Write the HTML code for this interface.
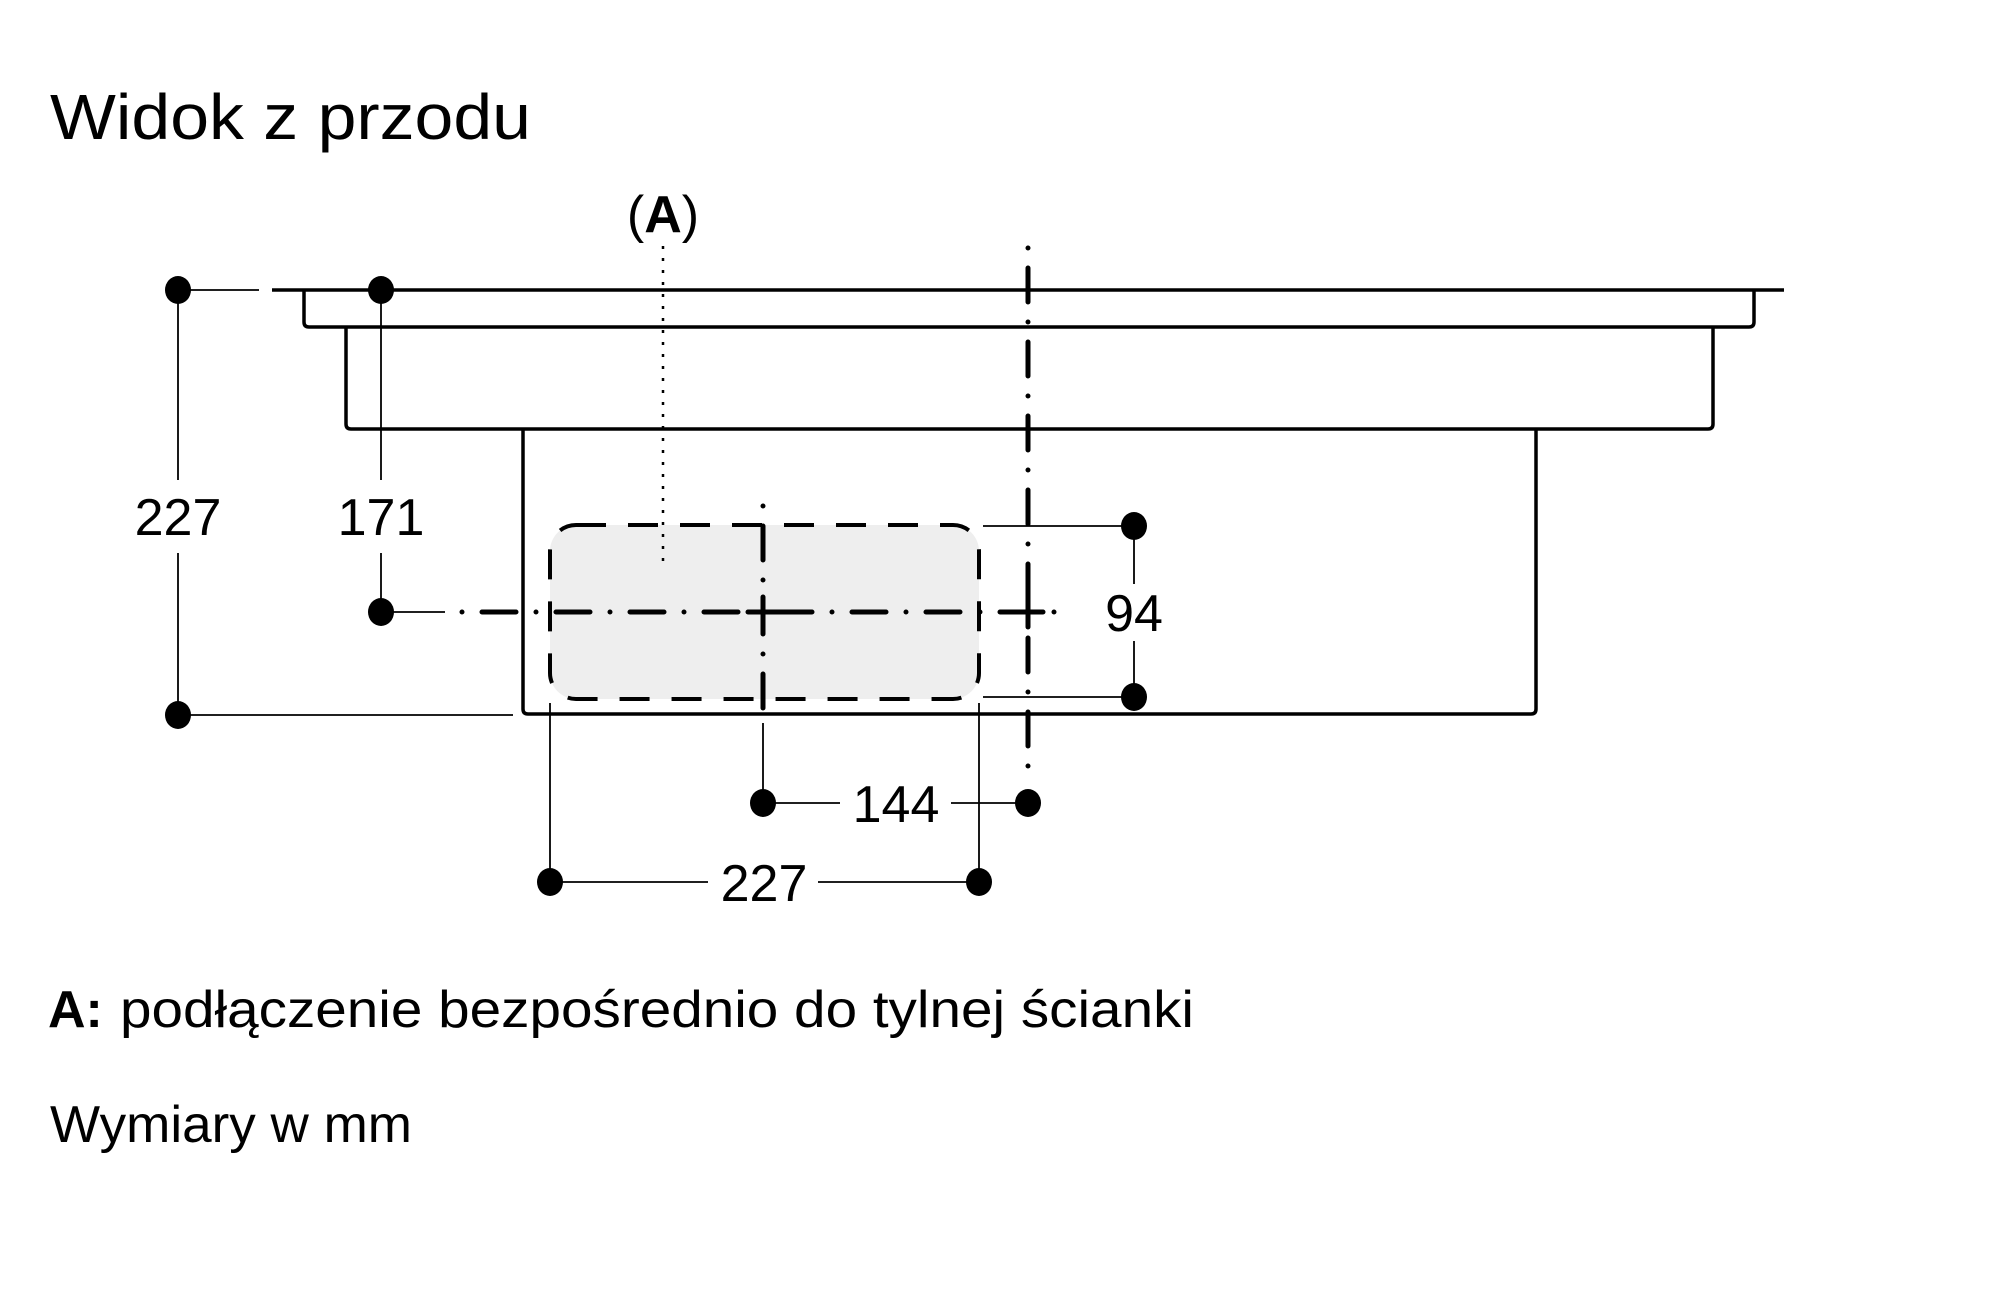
<!DOCTYPE html>
<html><head><meta charset="utf-8"><style>html,body{margin:0;padding:0;background:#fff}svg{display:block}</style></head>
<body>
<svg width="2000" height="1308" viewBox="0 0 2000 1308" xmlns="http://www.w3.org/2000/svg" font-family="Liberation Sans, sans-serif">
<rect width="2000" height="1308" fill="#fff"/>
<text x="50" y="139" font-size="64" textLength="481" lengthAdjust="spacingAndGlyphs">Widok z przodu</text>
<!-- rounded rect fill -->
<rect x="550" y="525" width="429" height="174" rx="26" fill="#eeeeee"/>
<!-- body -->
<g fill="none" stroke="#000" stroke-width="3.5" stroke-linejoin="round">
<line x1="272" y1="290" x2="1784" y2="290"/>
<path d="M304 290 V322 Q304 327 309 327 H1749 Q1754 327 1754 322 V290"/>
<path d="M346 327 V424 Q346 429 351 429 H1708 Q1713 429 1713 424 V327"/>
<path d="M523 429 V709 Q523 714 528 714 H1531 Q1536 714 1536 709 V429"/>
</g>
<!-- dashed rounded rect -->
<rect x="550" y="525" width="429" height="174" rx="26" fill="none" stroke="#000" stroke-width="4" stroke-dasharray="30 22"/>
<!-- thin dimension lines -->
<g stroke="#000" stroke-width="1.8" fill="none">
<line x1="178" y1="290" x2="259" y2="290"/>
<line x1="178" y1="290" x2="178" y2="480"/>
<line x1="178" y1="553" x2="178" y2="715"/>
<line x1="178" y1="715" x2="513" y2="715"/>
<line x1="381" y1="290" x2="381" y2="480"/>
<line x1="381" y1="553" x2="381" y2="612"/>
<line x1="381" y1="612" x2="445" y2="612"/>
<line x1="983" y1="526" x2="1134" y2="526"/>
<line x1="983" y1="697" x2="1134" y2="697"/>
<line x1="1134" y1="526" x2="1134" y2="584"/>
<line x1="1134" y1="641" x2="1134" y2="697"/>
<line x1="763" y1="723" x2="763" y2="803"/>
<line x1="763" y1="803" x2="840" y2="803"/>
<line x1="951" y1="803" x2="1028" y2="803"/>
<line x1="550" y1="703" x2="550" y2="882"/>
<line x1="979" y1="703" x2="979" y2="882"/>
<line x1="550" y1="882" x2="708" y2="882"/>
<line x1="818" y1="882" x2="979" y2="882"/>
</g>
<!-- dotted A line -->
<line x1="663" y1="246" x2="663" y2="568" stroke="#000" stroke-width="2.5" stroke-dasharray="3 9"/>
<!-- center lines -->
<g stroke="#000" stroke-width="5" stroke-linecap="round" fill="none">
<line x1="462" y1="612" x2="1063" y2="612" stroke-dasharray="0 20 34 20"/>
<line x1="1028" y1="248" x2="1028" y2="780" stroke-dasharray="0 20 34 20"/>
<line x1="763" y1="506" x2="763" y2="710" stroke-dasharray="0 20 34 20"/>
<line x1="748" y1="612" x2="778" y2="612"/>
<line x1="763" y1="597" x2="763" y2="627"/>
<line x1="1013" y1="612" x2="1043" y2="612"/>
<line x1="1028" y1="597" x2="1028" y2="627"/>
</g>
<!-- dots -->
<g fill="#000">
<ellipse cx="178" cy="290" rx="13" ry="14"/>
<ellipse cx="178" cy="715" rx="13" ry="14"/>
<ellipse cx="381" cy="290" rx="13" ry="14"/>
<ellipse cx="381" cy="612" rx="13" ry="14"/>
<ellipse cx="1134" cy="526" rx="13" ry="14"/>
<ellipse cx="1134" cy="697" rx="13" ry="14"/>
<ellipse cx="763" cy="803" rx="13" ry="14"/>
<ellipse cx="1028" cy="803" rx="13" ry="14"/>
<ellipse cx="550" cy="882" rx="13" ry="14"/>
<ellipse cx="979" cy="882" rx="13" ry="14"/>
</g>
<!-- labels -->
<g font-size="52" text-anchor="middle">
<text x="178" y="535">227</text>
<text x="381" y="535">171</text>
<text x="1134" y="631">94</text>
<text x="896" y="822">144</text>
<text x="764" y="901">227</text>
<text x="663" y="232"><tspan>(</tspan><tspan font-weight="bold">A</tspan><tspan>)</tspan></text>
</g>
<text x="48" y="1027" font-size="52" font-weight="bold">A:</text>
<text x="120" y="1027" font-size="52" textLength="1074" lengthAdjust="spacingAndGlyphs">podłączenie bezpośrednio do tylnej ścianki</text>
<text x="50" y="1142" font-size="52" textLength="362" lengthAdjust="spacingAndGlyphs">Wymiary w mm</text>
</svg>
</body></html>
